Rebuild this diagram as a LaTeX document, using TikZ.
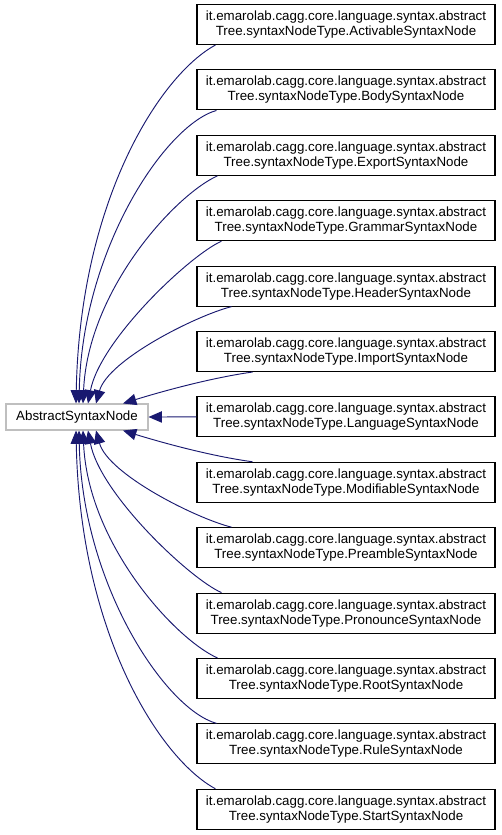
\documentclass[tikz,border=0pt]{standalone}
\usepackage{fontspec}
\setmainfont{Liberation Sans}
\usetikzlibrary{arrows.meta,calc}
\definecolor{edgeblue}{HTML}{191970}
\definecolor{absgray}{HTML}{BFBFBF}
\tikzset{
  cls/.style={draw=black, line width=0.8pt, fill=white, minimum width=223.5pt, minimum height=30pt,
    inner sep=0pt, align=center, font=\fontsize{10}{11.3}\selectfont},
  basecls/.style={draw=absgray, line width=0.8pt, fill=white, minimum width=106.5pt, minimum height=19.5pt,
    inner sep=0pt, font=\fontsize{10}{12}\selectfont},
  inh/.style={draw=edgeblue, line width=0.7pt, -{Triangle[length=10pt,width=8.5pt]}}
}
\begin{document}
\begin{tikzpicture}[x=0.75pt,y=-0.75pt]
\useasboundingbox (0,0) rectangle (501,835);
\node[basecls] (abs) at (77,417) {AbstractSyntaxNode};
\node[cls] (b1) at (346,24.5) {it.emarolab.cagg.core.language.syntax.abstract\\Tree.syntaxNodeType.ActivableSyntaxNode};
\node[cls] (b2) at (346,89.9) {it.emarolab.cagg.core.language.syntax.abstract\\Tree.syntaxNodeType.BodySyntaxNode};
\node[cls] (b3) at (346,155.3) {it.emarolab.cagg.core.language.syntax.abstract\\Tree.syntaxNodeType.ExportSyntaxNode};
\node[cls] (b4) at (346,220.7) {it.emarolab.cagg.core.language.syntax.abstract\\Tree.syntaxNodeType.GrammarSyntaxNode};
\node[cls] (b5) at (346,286.1) {it.emarolab.cagg.core.language.syntax.abstract\\Tree.syntaxNodeType.HeaderSyntaxNode};
\node[cls] (b6) at (346,351.5) {it.emarolab.cagg.core.language.syntax.abstract\\Tree.syntaxNodeType.ImportSyntaxNode};
\node[cls] (b7) at (346,416.9) {it.emarolab.cagg.core.language.syntax.abstract\\Tree.syntaxNodeType.LanguageSyntaxNode};
\node[cls] (b8) at (346,482.3) {it.emarolab.cagg.core.language.syntax.abstract\\Tree.syntaxNodeType.ModifiableSyntaxNode};
\node[cls] (b9) at (346,547.7) {it.emarolab.cagg.core.language.syntax.abstract\\Tree.syntaxNodeType.PreambleSyntaxNode};
\node[cls] (b10) at (346,613.1) {it.emarolab.cagg.core.language.syntax.abstract\\Tree.syntaxNodeType.PronounceSyntaxNode};
\node[cls] (b11) at (346,678.5) {it.emarolab.cagg.core.language.syntax.abstract\\Tree.syntaxNodeType.RootSyntaxNode};
\node[cls] (b12) at (346,743.9) {it.emarolab.cagg.core.language.syntax.abstract\\Tree.syntaxNodeType.RuleSyntaxNode};
\node[cls] (b13) at (346,809.3) {it.emarolab.cagg.core.language.syntax.abstract\\Tree.syntaxNodeType.StartSyntaxNode};
% top edges
\draw[inh] ($(b1.south west)+(19,0)$) .. controls (160,75) and (80,200) .. ($(abs.north)+(-1,0)$);
\draw[inh] ($(b2.south west)+(20,0)$) .. controls (165,125) and (82,250) .. ($(abs.north)+(2,0)$);
\draw[inh] ($(b3.south west)+(21,0)$) .. controls (175,195) and (88,290) .. ($(abs.north)+(6,0)$);
\draw[inh] ($(b4.south west)+(25,0)$) .. controls (190,255) and (100,340) .. ($(abs.north)+(11,0)$);
\draw[inh] ($(b5.south west)+(35,0)$) .. controls (195,316) and (108,360) .. ($(abs.north)+(19,0)$);
\draw[inh] ($(b6.south west)+(56,0)$) .. controls (210,378) and (160,392) .. ($(abs.north)+(46,0)$);
\draw[inh] (b7.west) -- (abs.east);
% bottom edges
\draw[inh] ($(b8.north west)+(56,0)$) .. controls (210,456) and (160,442) .. ($(abs.south)+(46,0)$);
\draw[inh] ($(b9.north west)+(35,0)$) .. controls (195,518) and (108,474) .. ($(abs.south)+(19,0)$);
\draw[inh] ($(b10.north west)+(25,0)$) .. controls (190,579) and (100,494) .. ($(abs.south)+(11,0)$);
\draw[inh] ($(b11.north west)+(21,0)$) .. controls (175,639) and (88,544) .. ($(abs.south)+(6,0)$);
\draw[inh] ($(b12.north west)+(20,0)$) .. controls (165,709) and (82,584) .. ($(abs.south)+(2,0)$);
\draw[inh] ($(b13.north west)+(19,0)$) .. controls (160,759) and (80,634) .. ($(abs.south)+(-1,0)$);
\end{tikzpicture}
\end{document}
